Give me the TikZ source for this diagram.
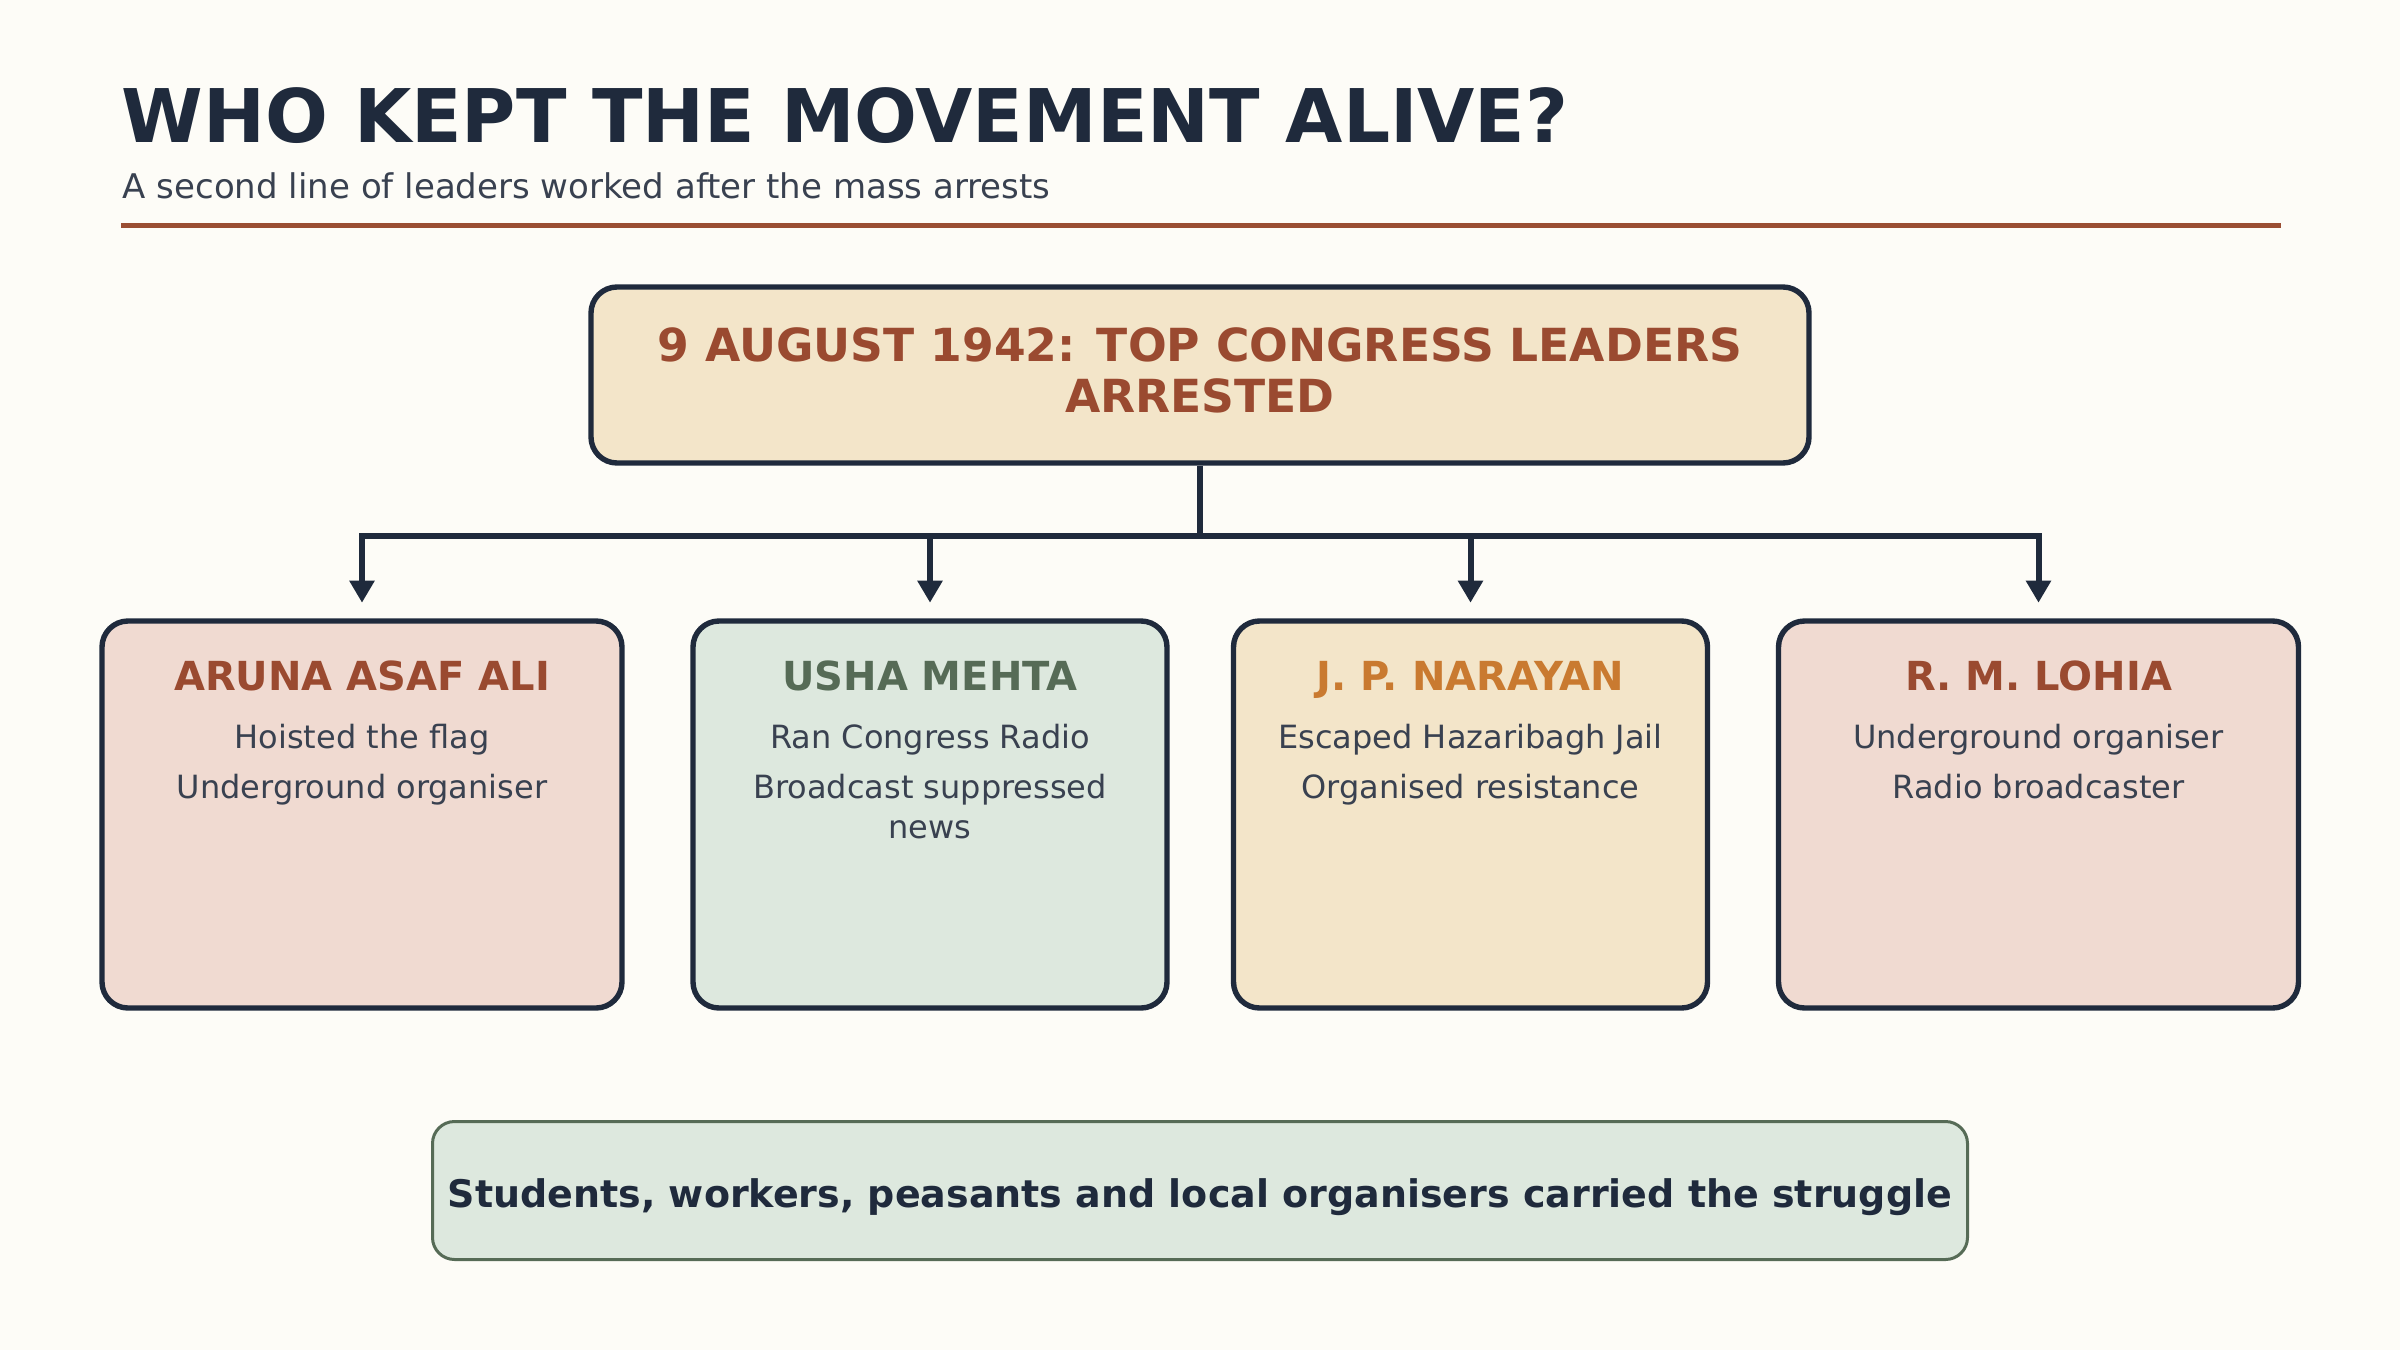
\documentclass[tikz,border=0pt]{standalone}
\usepackage{fontspec}
\setmainfont{DejaVu Sans}
\usetikzlibrary{arrows.meta}
\definecolor{bg}{HTML}{FDFCF7}
\definecolor{navy}{HTML}{1F2A3C}
\definecolor{slate}{HTML}{394150}
\definecolor{rust}{HTML}{9A4A30}
\definecolor{rulec}{HTML}{9A4E33}
\definecolor{sage}{HTML}{566B56}
\definecolor{ochre}{HTML}{C97A30}
\definecolor{sand}{HTML}{F3E5C9}
\definecolor{blush}{HTML}{F0DAD1}
\definecolor{mint}{HTML}{DDE8DE}
\begin{document}
\begin{tikzpicture}[x=0.25pt,y=-0.25pt,
  card/.style={draw=navy, line width=1.35pt, rounded corners=6.5pt, inner sep=0pt},
  txt/.style={inner sep=0pt, anchor=base},
  conn/.style={draw=navy, line width=1.5pt},
  tipd/.style={-{Triangle[width=6pt,length=5.5pt]}, shorten >=3.9pt},
  namef/.style={txt, font=\fontsize{10pt}{12pt}\selectfont\bfseries},
  descf/.style={txt, text=slate, font=\fontsize{8pt}{10pt}\selectfont}]
\useasboundingbox (0,0) rectangle (2400,1350);
\fill[bg] (0,0) rectangle (2400,1350);

% header
\node[txt, anchor=base west, text=navy, font=\fontsize{18.5pt}{22pt}\selectfont\bfseries] (title) at (121,142) {WHO KEPT THE MOVEMENT ALIVE?};
\node[txt, anchor=base west, text=slate, font=\fontsize{8.5pt}{10pt}\selectfont] (sub) at (122,198) {A second line of leaders worked after the mass arrests};
\coordinate (rl) at (121,225.5);
\coordinate (rr) at (2281,225.5);
\draw[rulec, line width=1.125pt] (rl) -- (rr);

% top box
\node[card, fill=sand, minimum width=304.5pt, minimum height=44pt] (top) at (1200,375) {};
\node[txt, text=rust, font=\fontsize{11.4pt}{14pt}\selectfont\bfseries] (topl1) at (1200,361) {9 AUGUST 1942: TOP CONGRESS LEADERS};
\node[txt, text=rust, font=\fontsize{11.4pt}{14pt}\selectfont\bfseries] (topl2) at (1200,412) {ARRESTED};

% leader cards
\node[card, fill=blush, minimum width=130pt, minimum height=96.75pt] (b1) at (362,814.5) {};
\node[card, fill=mint, minimum width=118.5pt, minimum height=96.75pt] (b2) at (930,814.5) {};
\node[card, fill=sand, minimum width=118.5pt, minimum height=96.75pt] (b3) at (1470.5,814.5) {};
\node[card, fill=blush, minimum width=130pt, minimum height=96.75pt] (b4) at (2038.5,814.5) {};

\node[namef, text=rust] (n1) at (362,690) {ARUNA ASAF ALI};
\node[descf] (d1a) at (362,748) {Hoisted the flag};
\node[descf] (d1b) at (362,798) {Underground organiser};

\node[namef, text=sage] (n2) at (930,690) {USHA MEHTA};
\node[descf] (d2a) at (930,748) {Ran Congress Radio};
\node[descf] (d2b) at (930,798) {Broadcast suppressed};
\node[descf] (d2c) at (930,838) {news};

\node[namef, text=ochre] (n3) at (1470.5,690) {J. P. NARAYAN};
\node[descf] (d3a) at (1470.5,748) {Escaped Hazaribagh Jail};
\node[descf] (d3b) at (1470.5,798) {Organised resistance};

\node[namef, text=rust] (n4) at (2038.5,690) {R. M. LOHIA};
\node[descf] (d4a) at (2038.5,748) {Underground organiser};
\node[descf] (d4b) at (2038.5,798) {Radio broadcaster};

% connectors
\coordinate (jn) at (1200,536);
\draw[conn] (top.south) -- (jn);
\draw[conn, tipd] (jn) -| (b1.north);
\draw[conn, tipd] (jn) -| (b2.north);
\draw[conn, tipd] (jn) -| (b3.north);
\draw[conn, tipd] (jn) -| (b4.north);

% bottom box
\node[draw=sage, line width=0.75pt, rounded corners=5.5pt, fill=mint, inner sep=0pt, minimum width=383.75pt, minimum height=34.5pt] (bot) at (1200,1190.5) {};
\node[txt, text=navy, font=\fontsize{9.5pt}{12pt}\selectfont\bfseries] (botl) at (1200,1207) {Students, workers, peasants and local organisers carried the struggle};
\end{tikzpicture}
\end{document}
